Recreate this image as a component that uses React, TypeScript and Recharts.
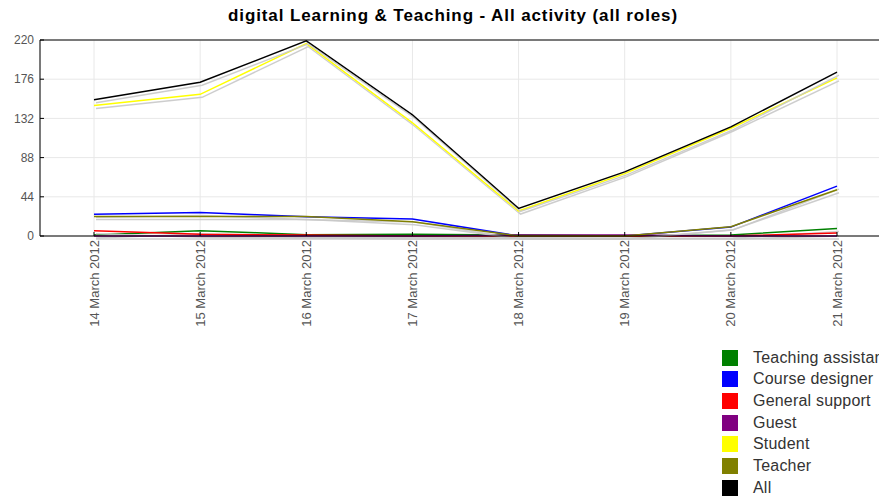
import { LineChart, Line, XAxis, YAxis, CartesianGrid, ReferenceLine } from "recharts";

const dates = [
  "14 March 2012",
  "15 March 2012",
  "16 March 2012",
  "17 March 2012",
  "18 March 2012",
  "19 March 2012",
  "20 March 2012",
  "21 March 2012",
];

const teachingAssistant = [1, 6, 1.5, 2, 1, 0, 1, 8.5];
const courseDesigner = [24.5, 26.5, 21.5, 19, 0, 0, 10, 56];
const generalSupport = [6, 2, 1, 0, 0, 0, 0, 3.5];
const guest = [0, 0, 0, 0, 1, 1, 0, 0];
const student = [146.5, 159, 216, 127, 28, 70, 121, 177.5];
const teacher = [22, 22, 22, 16, 0, 0, 10.5, 52];
const all = [153, 172.5, 219, 136, 31, 72, 122.5, 184];

const yTicks = [0, 44, 88, 132, 176, 220];

const FONT = "'Liberation Sans', Arial, sans-serif";

const series = [
  { key: "ta", name: "Teaching assistant", color: "#008000", values: teachingAssistant },
  { key: "cd", name: "Course designer", color: "#0000ff", values: courseDesigner },
  { key: "gs", name: "General support", color: "#ff0000", values: generalSupport },
  { key: "guest", name: "Guest", color: "#800080", values: guest },
  { key: "student", name: "Student", color: "#ffff00", values: student },
  { key: "teacher", name: "Teacher", color: "#808000", values: teacher },
  { key: "all", name: "All", color: "#000000", values: all },
];

const data = dates.map((date, i) => {
  const row: Record<string, string | number> = { date };
  series.forEach((s) => {
    row[s.key] = s.values[i];
  });
  return row;
});

// rotated date labels, top end just under the axis
const DateTick = (props: any) => {
  const { x, payload } = props;
  return (
    <text
      x={0}
      y={0}
      dy="0.35em"
      transform={`translate(${x},240) rotate(-90)`}
      textAnchor="end"
      fontSize={13}
      fill="#555"
      fontFamily={FONT}
    >
      {payload.value}
    </text>
  );
};

export default function App() {
  return (
    <div
      style={{
        position: "absolute",
        left: 0,
        top: 0,
        width: 879,
        height: 496,
        overflow: "hidden",
        background: "#fff",
        fontFamily: FONT,
      }}
    >
      <style>{`.recharts-line-curve { filter: url(#lineShadow); }`}</style>
      <div
        style={{
          position: "absolute",
          left: 0,
          top: 6,
          width: 906,
          textAlign: "center",
          fontWeight: "bold",
          fontSize: 17,
          letterSpacing: 0.9,
          lineHeight: "20px",
          color: "#000",
        }}
      >
        digital Learning &amp; Teaching - All activity (all roles)
      </div>
      <LineChart
        width={906}
        height={496}
        data={data}
        margin={{ top: 40, right: 15, bottom: 160, left: 0 }}
      >
        <defs>
          <filter
            id="lineShadow"
            filterUnits="userSpaceOnUse"
            x={0}
            y={0}
            width={906}
            height={496}
          >
            <feDropShadow dx={2} dy={3} stdDeviation={0} floodColor="#c8c8c8" floodOpacity={0.9} />
          </filter>
        </defs>
        <CartesianGrid stroke="#e8e8e8" />
        <XAxis
          dataKey="date"
          padding={{ left: 54, right: 54 }}
          height={100}
          interval={0}
          tick={<DateTick />}
          tickSize={-4}
          stroke="#000"
        />
        <YAxis
          domain={[0, 220]}
          ticks={yTicks}
          width={40}
          tickSize={-4}
          tickMargin={10}
          stroke="#000"
          tick={{ fontSize: 12, fill: "#555", fontFamily: FONT }}
        />
        <ReferenceLine y={220} stroke="#000" />
        {series.map((s) => (
          <Line
            key={s.key}
            dataKey={s.key}
            name={s.name}
            stroke={s.color}
            strokeWidth={1.5}
            dot={false}
            activeDot={false}
            isAnimationActive={false}
          />
        ))}
      </LineChart>
      <div style={{ position: "absolute", left: 722, top: 347 }}>
        {series.map((s) => (
          <div
            key={s.key}
            style={{ display: "flex", alignItems: "center", height: 21.67, whiteSpace: "nowrap" }}
          >
            <span
              style={{ display: "inline-block", width: 16, height: 16, background: s.color, marginRight: 15 }}
            />
            <span style={{ fontSize: 16, letterSpacing: 0.2, color: "#333" }}>{s.name}</span>
          </div>
        ))}
      </div>
    </div>
  );
}
